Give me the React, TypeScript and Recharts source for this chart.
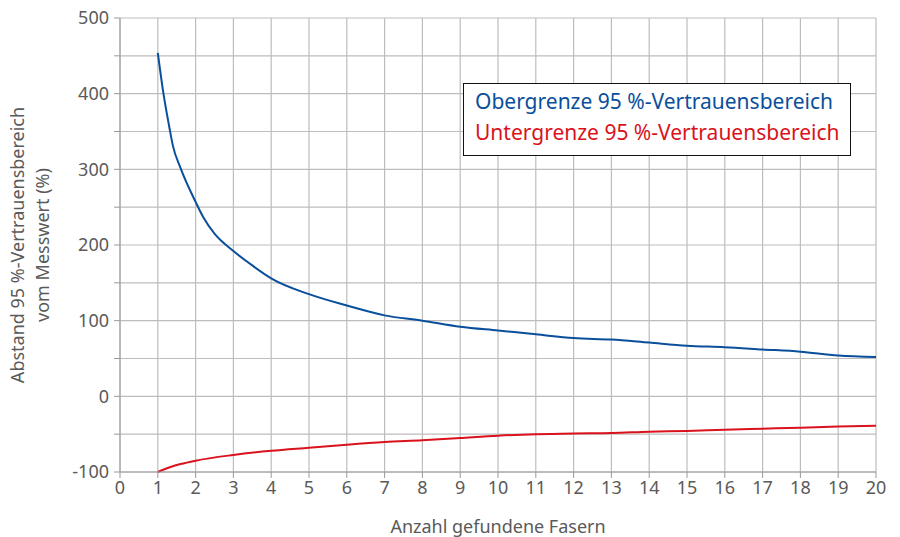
import {LineChart, Line, XAxis, YAxis, CartesianGrid} from "recharts";

// Anzahl gefundener Fasern (x) und Abstand der Grenzen in %
const upperX = [1, 1.15, 1.3, 1.4, 1.6, 2, 2.2, 2.5, 3, 3.5, 4, 5, 6, 7, 8, 9, 10, 11, 12, 13, 14, 15, 16, 17, 18, 19, 20];
const upperY = [454, 400, 357, 331, 302, 257, 237, 215, 192, 173, 156, 135, 120, 107, 100, 92, 87, 82, 77, 75, 71, 67, 65, 62, 59, 54, 52];

const lowerX = [1, 1.3, 1.6, 2, 3, 4, 5, 6, 7, 8, 9, 10, 11, 12, 13, 14, 15, 16, 17, 18, 19, 20];
const lowerY = [-100, -94, -89.5, -85, -77.5, -72, -68, -64, -60.5, -58, -55, -52, -50, -49, -48.5, -46.7, -45.8, -44, -42.7, -41.4, -40, -39];

const xTicks = Array.from({length: 21}, (_, i) => i);
const yTicks = [-100, -50, 0, 50, 100, 150, 200, 250, 300, 350, 400, 450, 500];

const upperLabel = "Obergrenze 95 %-Vertrauensbereich";
const lowerLabel = "Untergrenze 95 %-Vertrauensbereich";
const xTitle = "Anzahl gefundene Fasern";
const yTitle = ["Abstand 95 %-Vertrauensbereich", "vom Messwert (%)"];

const BLUE = "#0a4f9c";
const RED = "#d9121c";
const GREY = "#5a5a5a";
const FONT = "'Noto Sans', sans-serif";

const upperData = upperX.map((x, i) => ({x, y: upperY[i]}));
const lowerData = lowerX.map((x, i) => ({x, y: lowerY[i]}));

const LegendBox = () => (
    <div style={{
        position: "absolute",
        left: 463,
        top: 83,
        width: 388,
        height: 73,
        boxSizing: "border-box",
        border: "1.5px solid #111",
        background: "#fff",
        padding: "2px 0 0 11px",
        fontFamily: FONT,
        fontSize: 21,
        lineHeight: "31px",
        whiteSpace: "nowrap",
    }}>
        <div style={{color: BLUE}}>{upperLabel}</div>
        <div style={{color: RED}}>{lowerLabel}</div>
    </div>
);

const YTitle = ({viewBox}: any) => {
    const cy = viewBox.y + viewBox.height / 2;
    return (
        <text transform={`rotate(-90, 30, ${cy})`} x={30} y={cy} textAnchor="middle"
              fill={GREY} fontSize={18} fontFamily={FONT}>
            <tspan x={30} dy={-6}>{yTitle[0]}</tspan>
            <tspan x={30} dy={25}>{yTitle[1]}</tspan>
        </text>
    );
};

const App = () => {
    return (
        <div style={{position: "absolute", left: 0, top: 0, width: 900, height: 537, background: "#fff"}}>
            <LineChart width={900} height={537} margin={{top: 18, right: 24, left: 0, bottom: 0}}>
                <CartesianGrid stroke="#bdbdbd" strokeWidth={1.2}/>
                <XAxis type="number" dataKey="x" domain={[0, 20]} ticks={xTicks} interval={0}
                       allowDuplicatedCategory={false}
                       height={65} stroke="#9a9a9a" tickSize={6} tickMargin={3}
                       tick={{fill: GREY, fontSize: 18, fontFamily: FONT}}
                       label={{value: xTitle, position: "insideBottom", offset: 4, fill: GREY, fontSize: 18, fontFamily: FONT}}/>
                <YAxis type="number" domain={[-100, 500]} ticks={yTicks} width={120} stroke="#9a9a9a"
                       tickSize={6} tickMargin={5} interval={0}
                       tickFormatter={(v: number) => (v % 100 === 0 ? String(v) : "")}
                       tick={{fill: GREY, fontSize: 18, fontFamily: FONT}}
                       label={<YTitle/>}/>
                <Line data={upperData} dataKey="y" type="monotone" stroke={BLUE} strokeWidth={2}
                      dot={false} isAnimationActive={false}/>
                <Line data={lowerData} dataKey="y" type="monotone" stroke={RED} strokeWidth={2}
                      dot={false} isAnimationActive={false}/>
            </LineChart>
            <LegendBox/>
        </div>
    );
};

export default App;
